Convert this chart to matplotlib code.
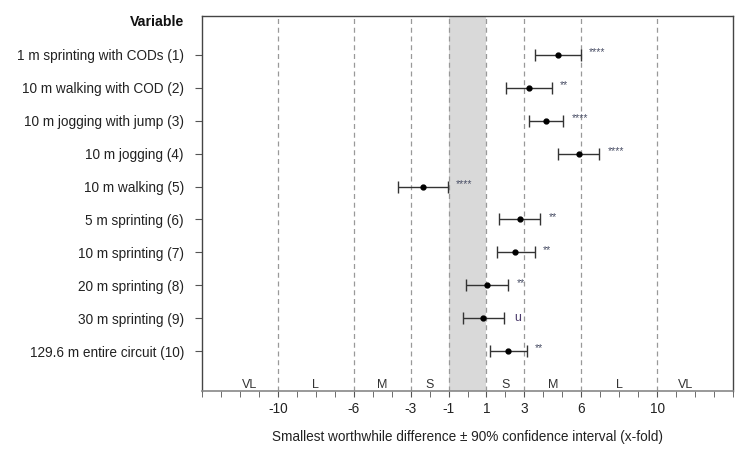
import matplotlib
matplotlib.use("Agg")
import matplotlib.pyplot as plt
import numpy as np

plt.rcParams['font.family'] = ['Liberation Sans', 'DejaVu Sans']

variables = ["1 m sprinting with CODs (1)", "10 m walking with COD (2)",
             "10 m jogging with jump (3)", "10 m jogging (4)", "10 m walking (5)",
             "5 m sprinting (6)", "10 m sprinting (7)", "20 m sprinting (8)",
             "30 m sprinting (9)", "129.6 m entire circuit (10)"]
means = [4.75, 3.23, 4.16, 5.86, -2.37, 2.75, 2.53, 1.03, 0.83, 2.14]
lower = [3.54, 2.05, 3.23, 4.75, -3.65, 1.65, 1.53, -0.09, -0.26, 1.17]
upper = [5.96, 4.44, 5.04, 6.93, -1.05, 3.82, 3.54, 2.14, 1.91, 3.12]
marks = ["****", "**", "****", "****", "****", "**", "**", "**", "u", "**"]

threshold_ticks = [-10, -6, -3, -1, 1, 3, 6, 10]
zone_labels = ["VL", "L", "M", "S", "S", "M", "L", "VL"]
zone_pos = [-11.5, -8, -4.5, -2, 2, 4.5, 8, 11.5]

fig = plt.figure(figsize=(7.48, 4.54), dpi=100)
ax = fig.add_axes([0.270, 0.1388, 0.710, 0.826])

n = len(variables)
ypos = np.arange(n, 0, -1)

ax.axvspan(-1, 1, color='#d9d9d9', zorder=0, lw=0)
for t in threshold_ticks:
    ax.axvline(t, color='#999999', ls=(0, (4, 3)), lw=0.9, zorder=1)

m = np.array(means); lo = np.array(lower); hi = np.array(upper)
ax.errorbar(m, ypos, xerr=[m - lo, hi - m], fmt='o', color='black', ms=3.5,
            ecolor='#333333', elinewidth=1.0, capsize=4, capthick=1.0, zorder=3)

for y, h, mk in zip(ypos, hi, marks):
    if mk == "u":
        ax.text(h + 0.55, y, mk, fontsize=9, color='#4b3a6b', va='center', ha='left')
    else:
        ax.text(h + 0.45, y + 0.08, mk, fontsize=7.5, color='#4a4f66', va='center', ha='left')

for lab, xp in zip(zone_labels, zone_pos):
    ax.text(xp, -0.2, lab, fontsize=9, color='#333333', ha='center', va='bottom')

ax.set_xlim(-14, 14)
ax.set_ylim(-0.21, 11.18)
ax.set_yticks(ypos)
ax.set_yticklabels(variables, fontsize=9.8, color='#222222')
ax.set_xticks(threshold_ticks)
ax.set_xticklabels([str(t) for t in threshold_ticks], fontsize=9.8, color='#222222')
ax.set_xticks(np.arange(-14, 15, 1), minor=True)
ax.tick_params(axis='x', which='both', direction='out', length=4, color='#555555', pad=4)
ax.tick_params(axis='y', direction='out', length=5, color='#555555', pad=8)
ax.text(-14.95, 11.0, "Variable", fontsize=10.2, fontweight='bold', ha='right', va='center', color='#111111')

for s in ['left', 'top', 'right']:
    ax.spines[s].set_color('#444444')
    ax.spines[s].set_linewidth(1.0)
ax.spines['bottom'].set_color('#888888')
ax.spines['bottom'].set_linewidth(1.2)

ax.set_xlabel("Smallest worthwhile difference ± 90% confidence interval (x-fold)",
              fontsize=9.8, color='#222222', labelpad=10)

fig.savefig("out.png", dpi=100)
